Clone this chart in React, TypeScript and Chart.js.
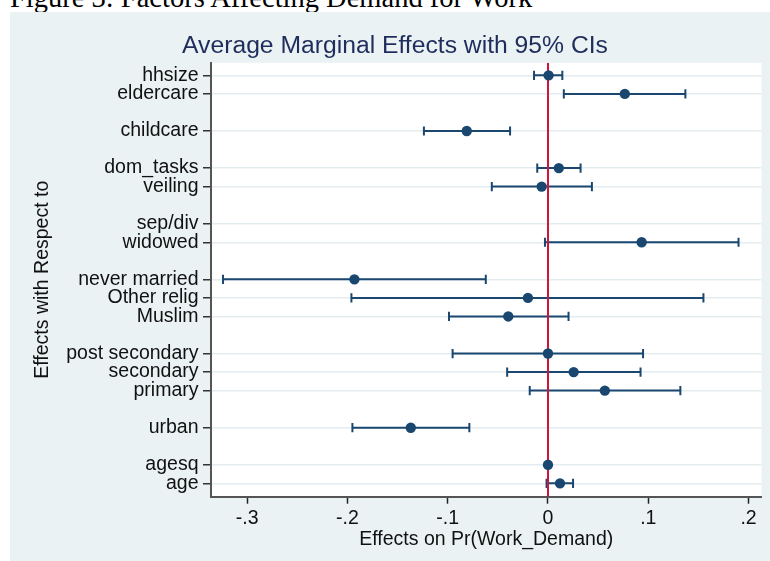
import React, { useEffect, useRef } from "react";
import { Chart, registerables } from "chart.js";

Chart.register(...registerables);

// ---- data ----
const CAPTION = "Figure 3: Factors Affecting Demand for Work";
const TITLE = "Average Marginal Effects with 95% CIs";
const X_TITLE = "Effects on Pr(Work_Demand)";
const Y_TITLE = "Effects with Respect to";

// variable groups (top to bottom); a blank row separates groups
const GROUPS: string[][] = [
  ["hhsize", "eldercare"],
  ["childcare"],
  ["dom_tasks", "veiling"],
  ["sep/div", "widowed"],
  ["never married", "Other relig", "Muslim"],
  ["post secondary", "secondary", "primary"],
  ["urban"],
  ["agesq", "age"],
];

// in the same order as the flattened groups
const ESTIMATE: (number | null)[] = [
  0.0006, 0.0766, -0.081, 0.0108, -0.0063, null, 0.0934, -0.193, -0.02, -0.0396,
  0.0, 0.0256, 0.0567, -0.1368, 0.0, 0.012,
];
const CI_LOW: (number | null)[] = [
  -0.0139, 0.0158, -0.1237, -0.0107, -0.056, null, -0.003, -0.324, -0.196, -0.0987,
  -0.0951, -0.0407, -0.0182, -0.195, null, -0.0014,
];
const CI_HIGH: (number | null)[] = [
  0.0143, 0.137, -0.0378, 0.0325, 0.0438, null, 0.19, -0.062, 0.155, 0.0205,
  0.0948, 0.0923, 0.132, -0.0784, null, 0.025,
];

const X_TICKS = [-0.3, -0.2, -0.1, 0, 0.1, 0.2];
const X_TICK_LABELS = ["-.3", "-.2", "-.1", "0", ".1", ".2"];
const X_MIN = -0.336;
const X_MAX = 0.2129;
const REF_VALUE = 0;

// ---- styles ----
const NAVY = "#1a476f";
const RED = "#d0143a";
const PANEL = "#eaf2f3";
const GRID = "#e3ecef";
const AXIS = "#555555";
const TEXT = "#111111";
const FONT = "'Liberation Sans', Arial, Helvetica, sans-serif";
const LABEL_SIZE = 19.5;

// row positions from the groups
const ROWS: { label: string; pos: number }[] = [];
{
  let p = 0;
  GROUPS.forEach((g, gi) => {
    if (gi > 0) p += 1;
    g.forEach((label) => {
      ROWS.push({ label, pos: p });
      p += 1;
    });
  });
}
const Y_MIN = -0.68;
const Y_MAX = ROWS[ROWS.length - 1].pos + 0.72;

export default function App() {
  const ref = useRef<HTMLCanvasElement | null>(null);

  useEffect(() => {
    if (!ref.current) return;

    const pointData = ROWS.map((r, i) =>
      ESTIMATE[i] === null ? null : { x: ESTIMATE[i] as number, y: r.pos }
    ).filter((d) => d !== null) as { x: number; y: number }[];

    const ciData: { x: number | null; y: number | null }[] = [];
    ROWS.forEach((r, i) => {
      if (CI_LOW[i] === null || CI_HIGH[i] === null) return;
      ciData.push({ x: CI_LOW[i], y: r.pos });
      ciData.push({ x: CI_HIGH[i], y: r.pos });
      ciData.push({ x: null, y: null });
    });

    const labelByPos: Record<string, string> = {};
    ROWS.forEach((r) => (labelByPos[String(r.pos)] = r.label));

    const plotBg = {
      id: "plotBg",
      beforeDraw(chart: any) {
        const { ctx, chartArea } = chart;
        ctx.save();
        ctx.fillStyle = "#ffffff";
        ctx.fillRect(
          chartArea.left,
          chartArea.top,
          chartArea.right - chartArea.left,
          chartArea.bottom - chartArea.top
        );
        ctx.restore();
      },
    };

    const chart = new Chart(ref.current, {
      type: "scatter",
      data: {
        datasets: [
          {
            label: "estimate",
            data: pointData,
            backgroundColor: NAVY,
            borderColor: NAVY,
            pointRadius: 5.2,
            pointHoverRadius: 5.2,
            pointBorderWidth: 0,
            order: 0,
          } as any,
          {
            label: "zero",
            data: [
              { x: REF_VALUE, y: Y_MIN },
              { x: REF_VALUE, y: Y_MAX },
            ],
            showLine: true,
            borderColor: RED,
            borderWidth: 2,
            pointRadius: 0,
            pointHoverRadius: 0,
            order: 1,
          } as any,
          {
            label: "ci",
            data: ciData,
            showLine: true,
            spanGaps: false,
            borderColor: NAVY,
            borderWidth: 2,
            pointStyle: "line",
            rotation: 90,
            pointRadius: 4.6,
            pointHoverRadius: 4.6,
            pointBorderWidth: 2,
            pointBorderColor: NAVY,
            order: 2,
          } as any,
        ],
      },
      options: {
        responsive: false,
        animation: false,
        events: [],
        layout: { padding: { left: 18.5, right: 8.5, top: 0, bottom: 0 } },
        plugins: {
          legend: { display: false },
          tooltip: { enabled: false },
          title: {
            display: true,
            text: TITLE,
            color: "#1f2d5c",
            font: { family: FONT, size: 24.7, weight: "normal", lineHeight: 1.2 },
            padding: { top: 19.3, bottom: 1.8 },
          },
        },
        scales: {
          x: {
            type: "linear",
            min: X_MIN,
            max: X_MAX,
            afterBuildTicks: (s: any) => {
              s.ticks = X_TICKS.map((v) => ({ value: v }));
            },
            afterFit: (s: any) => {
              s.height = 64.3;
            },
            ticks: {
              autoSkip: false,
              maxRotation: 0,
              padding: 3.2,
              color: TEXT,
              font: { family: FONT, size: LABEL_SIZE },
              callback: (v: any) => {
                const i = X_TICKS.findIndex((t) => Math.abs(t - Number(v)) < 1e-9);
                return i >= 0 ? X_TICK_LABELS[i] : "";
              },
            },
            grid: {
              drawOnChartArea: false,
              drawTicks: true,
              tickLength: 7,
              tickColor: "#222",
              tickWidth: 1.5,
            },
            border: { display: true, color: AXIS, width: 2 },
            title: {
              display: true,
              text: X_TITLE,
              color: TEXT,
              font: { family: FONT, size: LABEL_SIZE, lineHeight: 1.2 },
              padding: { top: 0, bottom: 10 },
            },
          },
          y: {
            type: "linear",
            reverse: true,
            min: Y_MIN,
            max: Y_MAX,
            afterBuildTicks: (s: any) => {
              s.ticks = ROWS.map((r) => ({ value: r.pos }));
            },
            afterFit: (s: any) => {
              s.width = 182.5;
            },
            ticks: {
              autoSkip: false,
              padding: 4.5,
              color: TEXT,
              font: { family: FONT, size: LABEL_SIZE },
              callback: (v: any) => labelByPos[String(v)] ?? "",
            },
            grid: {
              color: GRID,
              lineWidth: 1.5,
              drawTicks: true,
              tickLength: 8,
              tickColor: "#333",
              tickWidth: 1.5,
            },
            border: { display: true, color: AXIS, width: 2 },
            title: {
              display: true,
              text: Y_TITLE,
              color: TEXT,
              font: { family: FONT, size: LABEL_SIZE, lineHeight: 1.2 },
              padding: { top: 2.8, bottom: 0 },
            },
          },
        },
      } as any,
      plugins: [plotBg],
    });

    return () => chart.destroy();
  }, []);

  return (
    <div
      style={{
        position: "fixed",
        left: 0,
        top: 0,
        width: 770,
        height: 561,
        background: "#ffffff",
        overflow: "hidden",
      }}
    >
      <div
        style={{
          position: "absolute",
          left: 10,
          top: -16,
          fontFamily: "'Liberation Serif', 'Times New Roman', serif",
          fontSize: 28.5,
          lineHeight: "28px",
          color: "#000",
          whiteSpace: "nowrap",
        }}
      >
        {CAPTION}
      </div>
      <div
        style={{
          position: "absolute",
          left: 10,
          top: 12,
          width: 760,
          height: 549,
          background: PANEL,
        }}
      >
        <canvas ref={ref} width={760} height={549} style={{ display: "block" }} />
      </div>
    </div>
  );
}
